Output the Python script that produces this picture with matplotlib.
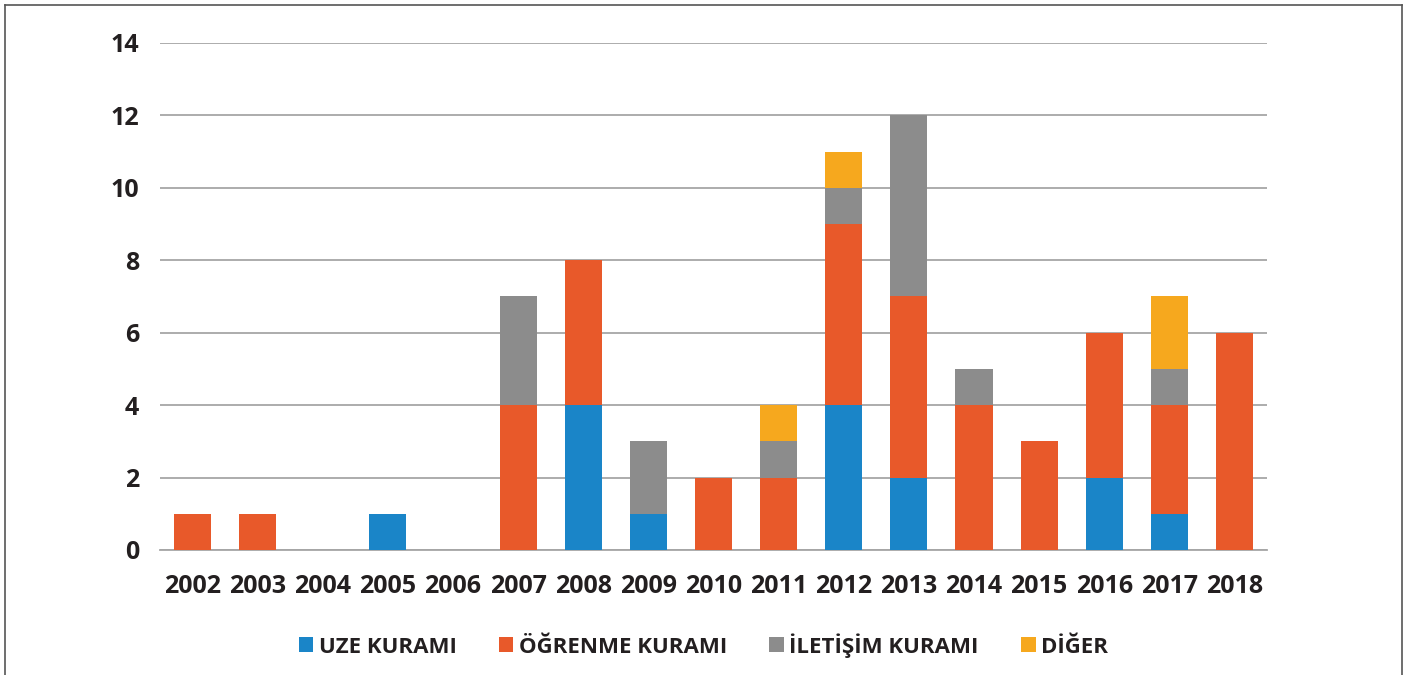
import matplotlib.pyplot as plt
import numpy as np
from matplotlib.lines import Line2D

plt.rcParams['font.family'] = ['Open Sans', 'DejaVu Sans']

years = ['2002', '2003', '2004', '2005', '2006', '2007', '2008', '2009', '2010',
         '2011', '2012', '2013', '2014', '2015', '2016', '2017', '2018']
uze = [0, 0, 0, 1, 0, 0, 4, 1, 0, 0, 4, 2, 0, 0, 2, 1, 0]
ogrenme = [1, 1, 0, 0, 0, 4, 4, 0, 2, 2, 5, 5, 4, 3, 4, 3, 6]
iletisim = [0, 0, 0, 0, 0, 3, 0, 2, 0, 1, 1, 5, 1, 0, 0, 1, 0]
diger = [0, 0, 0, 0, 0, 0, 0, 0, 0, 1, 1, 0, 0, 0, 0, 2, 0]

series = [('UZE KURAMI', uze, '#1a85c8'),
          ('ÖĞRENME KURAMI', ogrenme, '#e8592a'),
          ('İLETİŞİM KURAMI', iletisim, '#8c8c8c'),
          ('DİĞER', diger, '#f6a81e')]

fig = plt.figure(figsize=(14.07, 6.75), dpi=100)
ax = fig.add_axes([0.1137, 0.1852, 0.7868, 0.7511])

x = np.arange(len(years))
bottom = np.zeros(len(years))
for name, vals, col in series:
    ax.bar(x, vals, 0.57, bottom=bottom, color=col, label=name, zorder=3)
    bottom += np.array(vals)

ax.set_xlim(-0.5, len(years) - 0.5)
ax.set_ylim(0, 14)
ax.set_yticks(range(0, 15, 2))
ax.set_xticks(x)
ax.set_xticklabels(years)
ax.grid(axis='y', color='#a6a6a6', linewidth=1.3, zorder=0)
for s in ['top', 'right', 'left']:
    ax.spines[s].set_visible(False)
ax.spines['bottom'].set_color('#a6a6a6')
ax.spines['bottom'].set_linewidth(1.3)
ax.tick_params(length=0, labelsize=18, colors='#231f20')
for lbl in ax.get_xticklabels() + ax.get_yticklabels():
    lbl.set_fontweight('bold')
ax.tick_params(axis='x', pad=17)
ax.tick_params(axis='y', pad=15)

leg = fig.legend(loc='center', bbox_to_anchor=(0.5, 0.044), ncol=4, frameon=False,
                 handlelength=0.65, handleheight=0.65, handletextpad=0.25, columnspacing=1.9,
                 prop={'weight': 'bold', 'size': 16})
for t in leg.get_texts():
    t.set_color('#231f20')

# page frame
for xs, ys in [([5 / 1407, 5 / 1407], [0, 1 - 5 / 675]),
               ([5 / 1407, 1402 / 1407], [1 - 5 / 675, 1 - 5 / 675]),
               ([1402 / 1407, 1402 / 1407], [0, 1 - 5 / 675])]:
    fig.add_artist(Line2D(xs, ys, color='#555555', linewidth=1.2))

fig.savefig('out.png', dpi=100)
